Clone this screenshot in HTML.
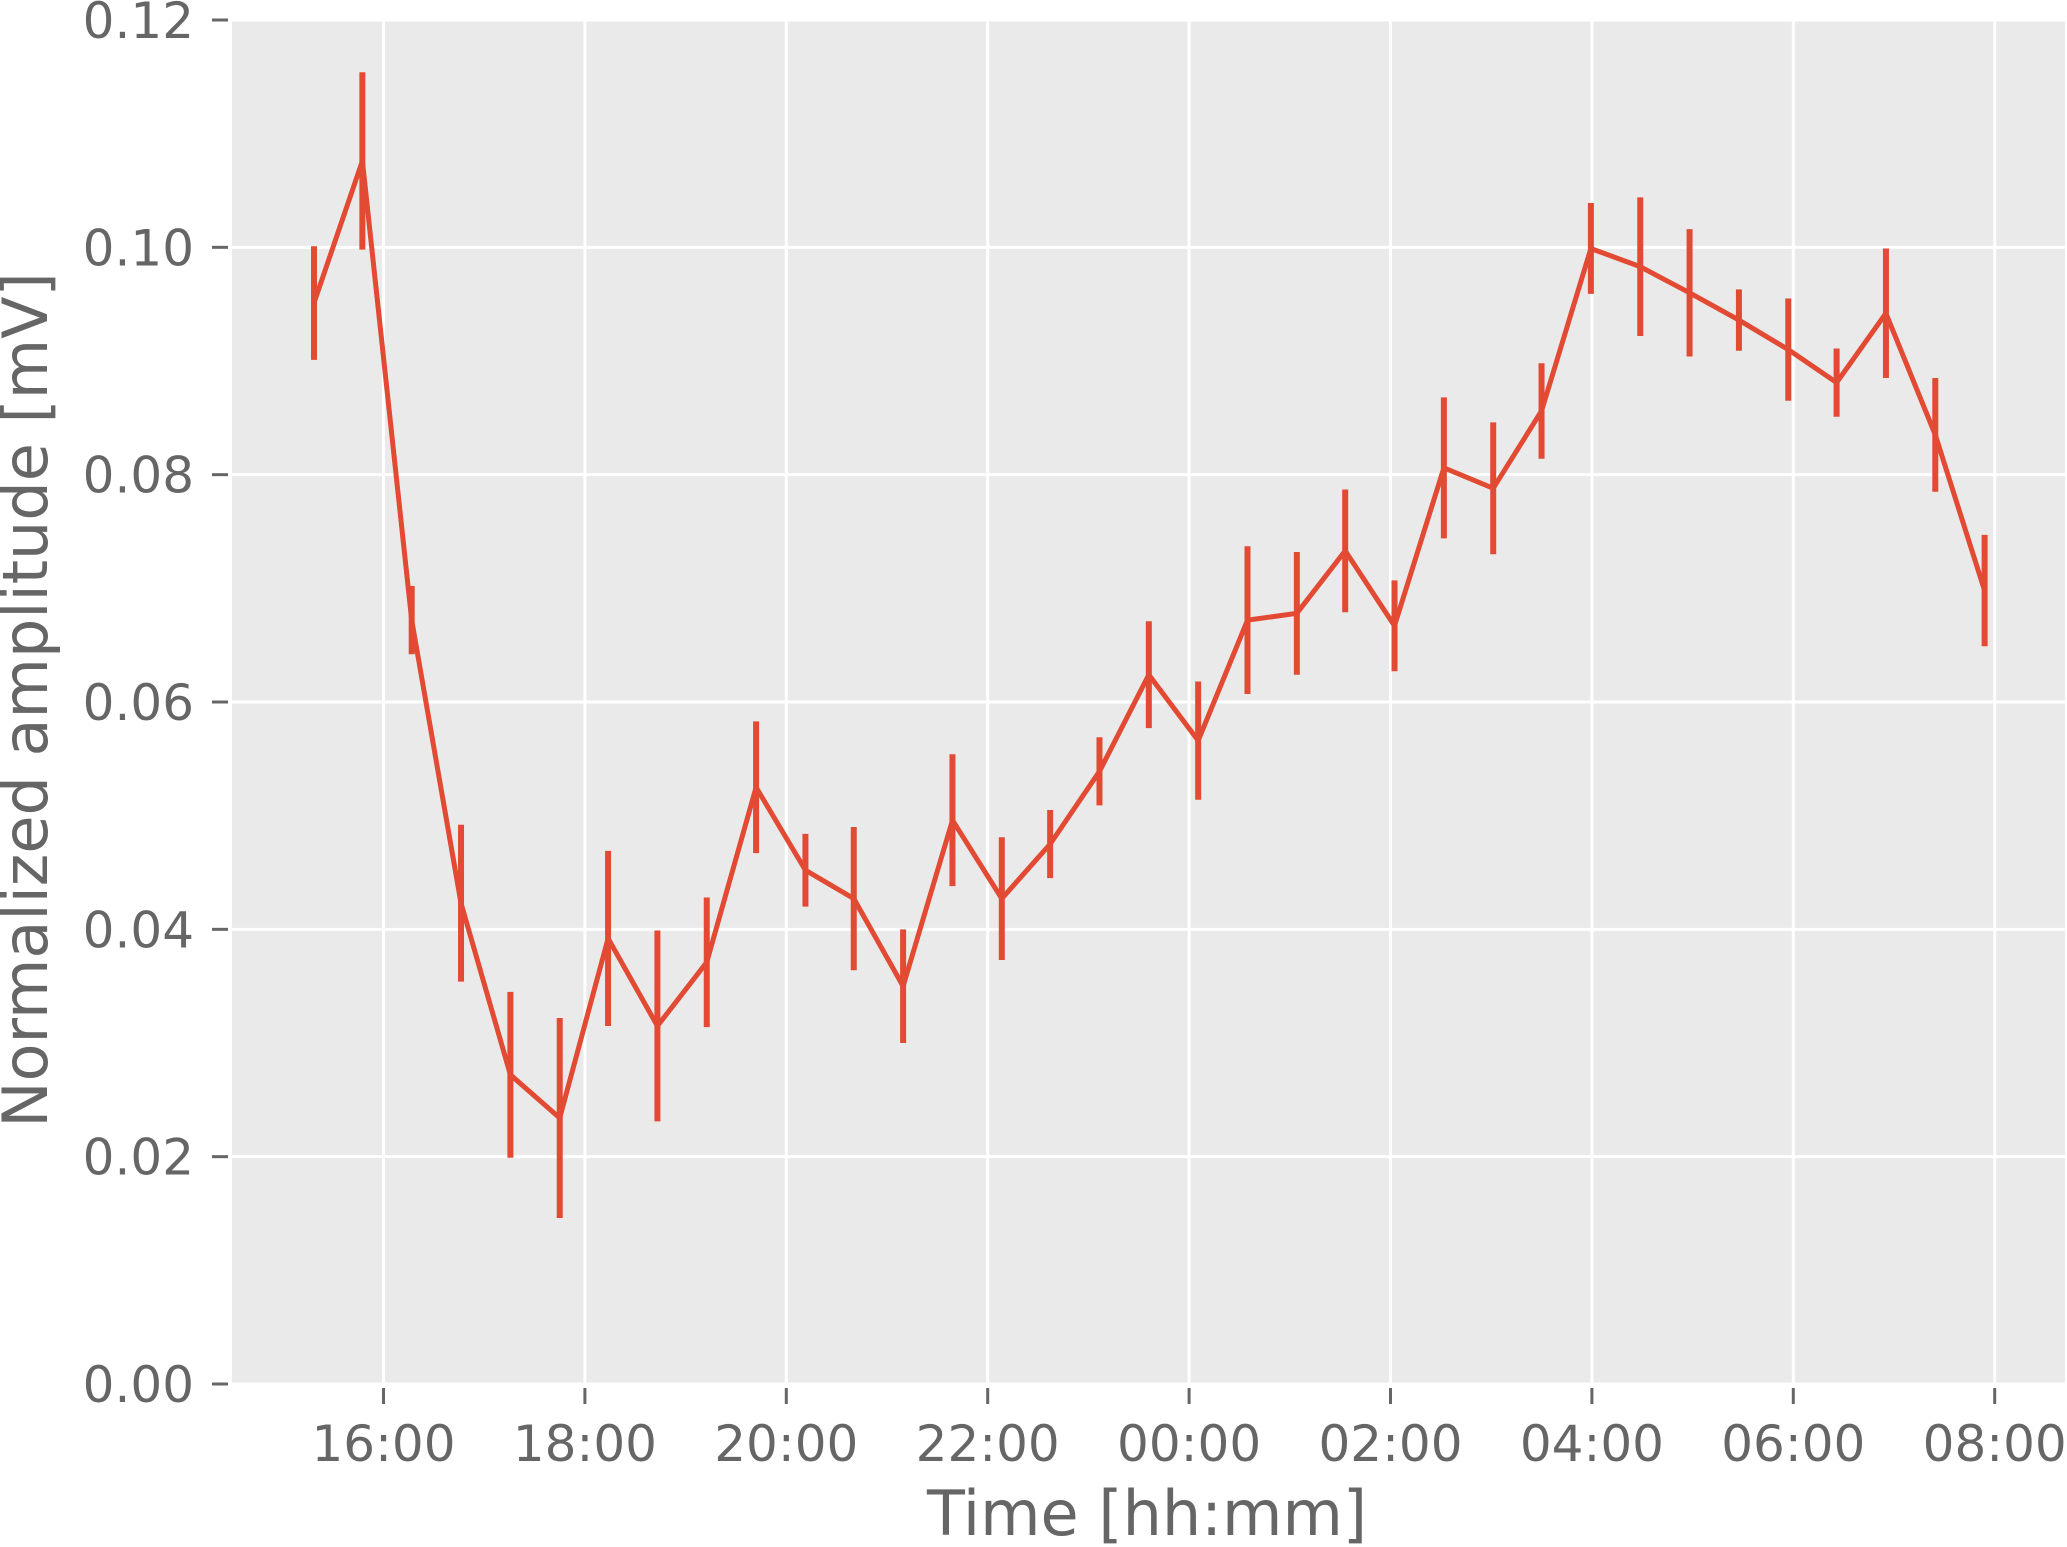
<!DOCTYPE html>
<html><head><meta charset="utf-8"><style>
html,body{margin:0;padding:0;background:#fff;}
svg{display:block;font-family:"DejaVu Sans","Liberation Sans",sans-serif;}
</style></head><body>
<svg id="chart" width="2067" height="1547" viewBox="0 0 2067 1547" xmlns="http://www.w3.org/2000/svg">
<rect x="232" y="20" width="1833" height="1364" fill="#EAEAEA"/>
<g id="grid"></g>
<g id="axes"></g>
<g id="series"></g>
<text x="1147" y="1535" text-anchor="middle" font-size="62" fill="#666">Time [hh:mm]</text>
<text transform="translate(47,700) rotate(-90)" text-anchor="middle" font-size="62" fill="#666">Normalized amplitude [mV]</text>
</svg>
<script>
// hours relative to 16:00
const times = [-0.69,-0.21,0.28,0.77,1.26,1.75,2.23,2.72,3.21,3.70,4.19,4.67,5.16,5.65,6.14,6.62,7.11,7.60,8.09,8.58,9.07,9.55,10.04,10.53,11.02,11.50,11.99,12.48,12.97,13.46,13.95,14.43,14.92,15.41,15.90];
const values = [0.0951,0.1076,0.0672,0.0423,0.0272,0.0234,0.0392,0.0315,0.0371,0.0525,0.0452,0.0427,0.0350,0.0496,0.0427,0.0475,0.0539,0.0624,0.0566,0.0672,0.0678,0.0733,0.0667,0.0806,0.0788,0.0856,0.0999,0.0983,0.0960,0.0936,0.0910,0.0881,0.0942,0.0835,0.0698];
const errors = [0.0050,0.0078,0.0030,0.0069,0.0073,0.0088,0.0077,0.0084,0.0057,0.0058,0.0032,0.0063,0.0050,0.0058,0.0054,0.0030,0.0030,0.0047,0.0052,0.0065,0.0054,0.0054,0.0040,0.0062,0.0058,0.0042,0.0040,0.0061,0.0056,0.0027,0.0045,0.0030,0.0057,0.0050,0.0049];
const yTicks = [0,0.02,0.04,0.06,0.08,0.10,0.12];
const yTickLabels = ["0.00","0.02","0.04","0.06","0.08","0.10","0.12"];
const xTicks = [0,2,4,6,8,10,12,14,16];
const xTickLabels = ["16:00","18:00","20:00","22:00","00:00","02:00","04:00","06:00","08:00"];

const NS="http://www.w3.org/2000/svg";
const X = h => 383.5 + h*100.7;
const Y = v => 1384 - v/0.12*1364;
function mk(tag, attrs, parent){const e=document.createElementNS(NS,tag);for(const k in attrs)e.setAttribute(k,attrs[k]);parent.appendChild(e);return e;}
const grid=document.getElementById('grid'), axes=document.getElementById('axes'), series=document.getElementById('series');

yTicks.forEach((t,i)=>{
  const y=Y(t);
  const g=mk('line',{x1:232,x2:2065,y1:y,y2:y,stroke:'#fff','stroke-width':3},grid);
  
  
  const tk=mk('line',{x1:212,x2:228,y1:y,y2:y,stroke:'#666','stroke-width':3},axes);
  
  
  const tx=mk('text',{x:194,y:y+18,'text-anchor':'end','font-size':50,fill:'#666'},axes);
  tx.textContent=yTickLabels[i];
  
  
});
xTicks.forEach((t,i)=>{
  const x=X(t);
  const g=mk('line',{x1:x,x2:x,y1:20,y2:1384,stroke:'#fff','stroke-width':3},grid);
  
  
  const tk=mk('line',{x1:x,x2:x,y1:1388,y2:1404,stroke:'#666','stroke-width':3},axes);
  
  
  const tx=mk('text',{x:x,y:1461,'text-anchor':'middle','font-size':50,fill:'#666'},axes);
  tx.textContent=xTickLabels[i];
  
  
});
times.forEach((t,i)=>{
  const x=X(t);
  const eb=mk('line',{x1:x,x2:x,y1:Y(values[i]+errors[i]),y2:Y(values[i]-errors[i]),stroke:'#E24A33','stroke-width':6},series);
  
  
});
const pts=times.map((t,i)=>X(t).toFixed(1)+','+Y(values[i]).toFixed(1)).join(' ');
const pl=mk('polyline',{points:pts,fill:'none',stroke:'#E24A33','stroke-width':5,'stroke-linejoin':'miter'},series);


</script>
</body></html>
